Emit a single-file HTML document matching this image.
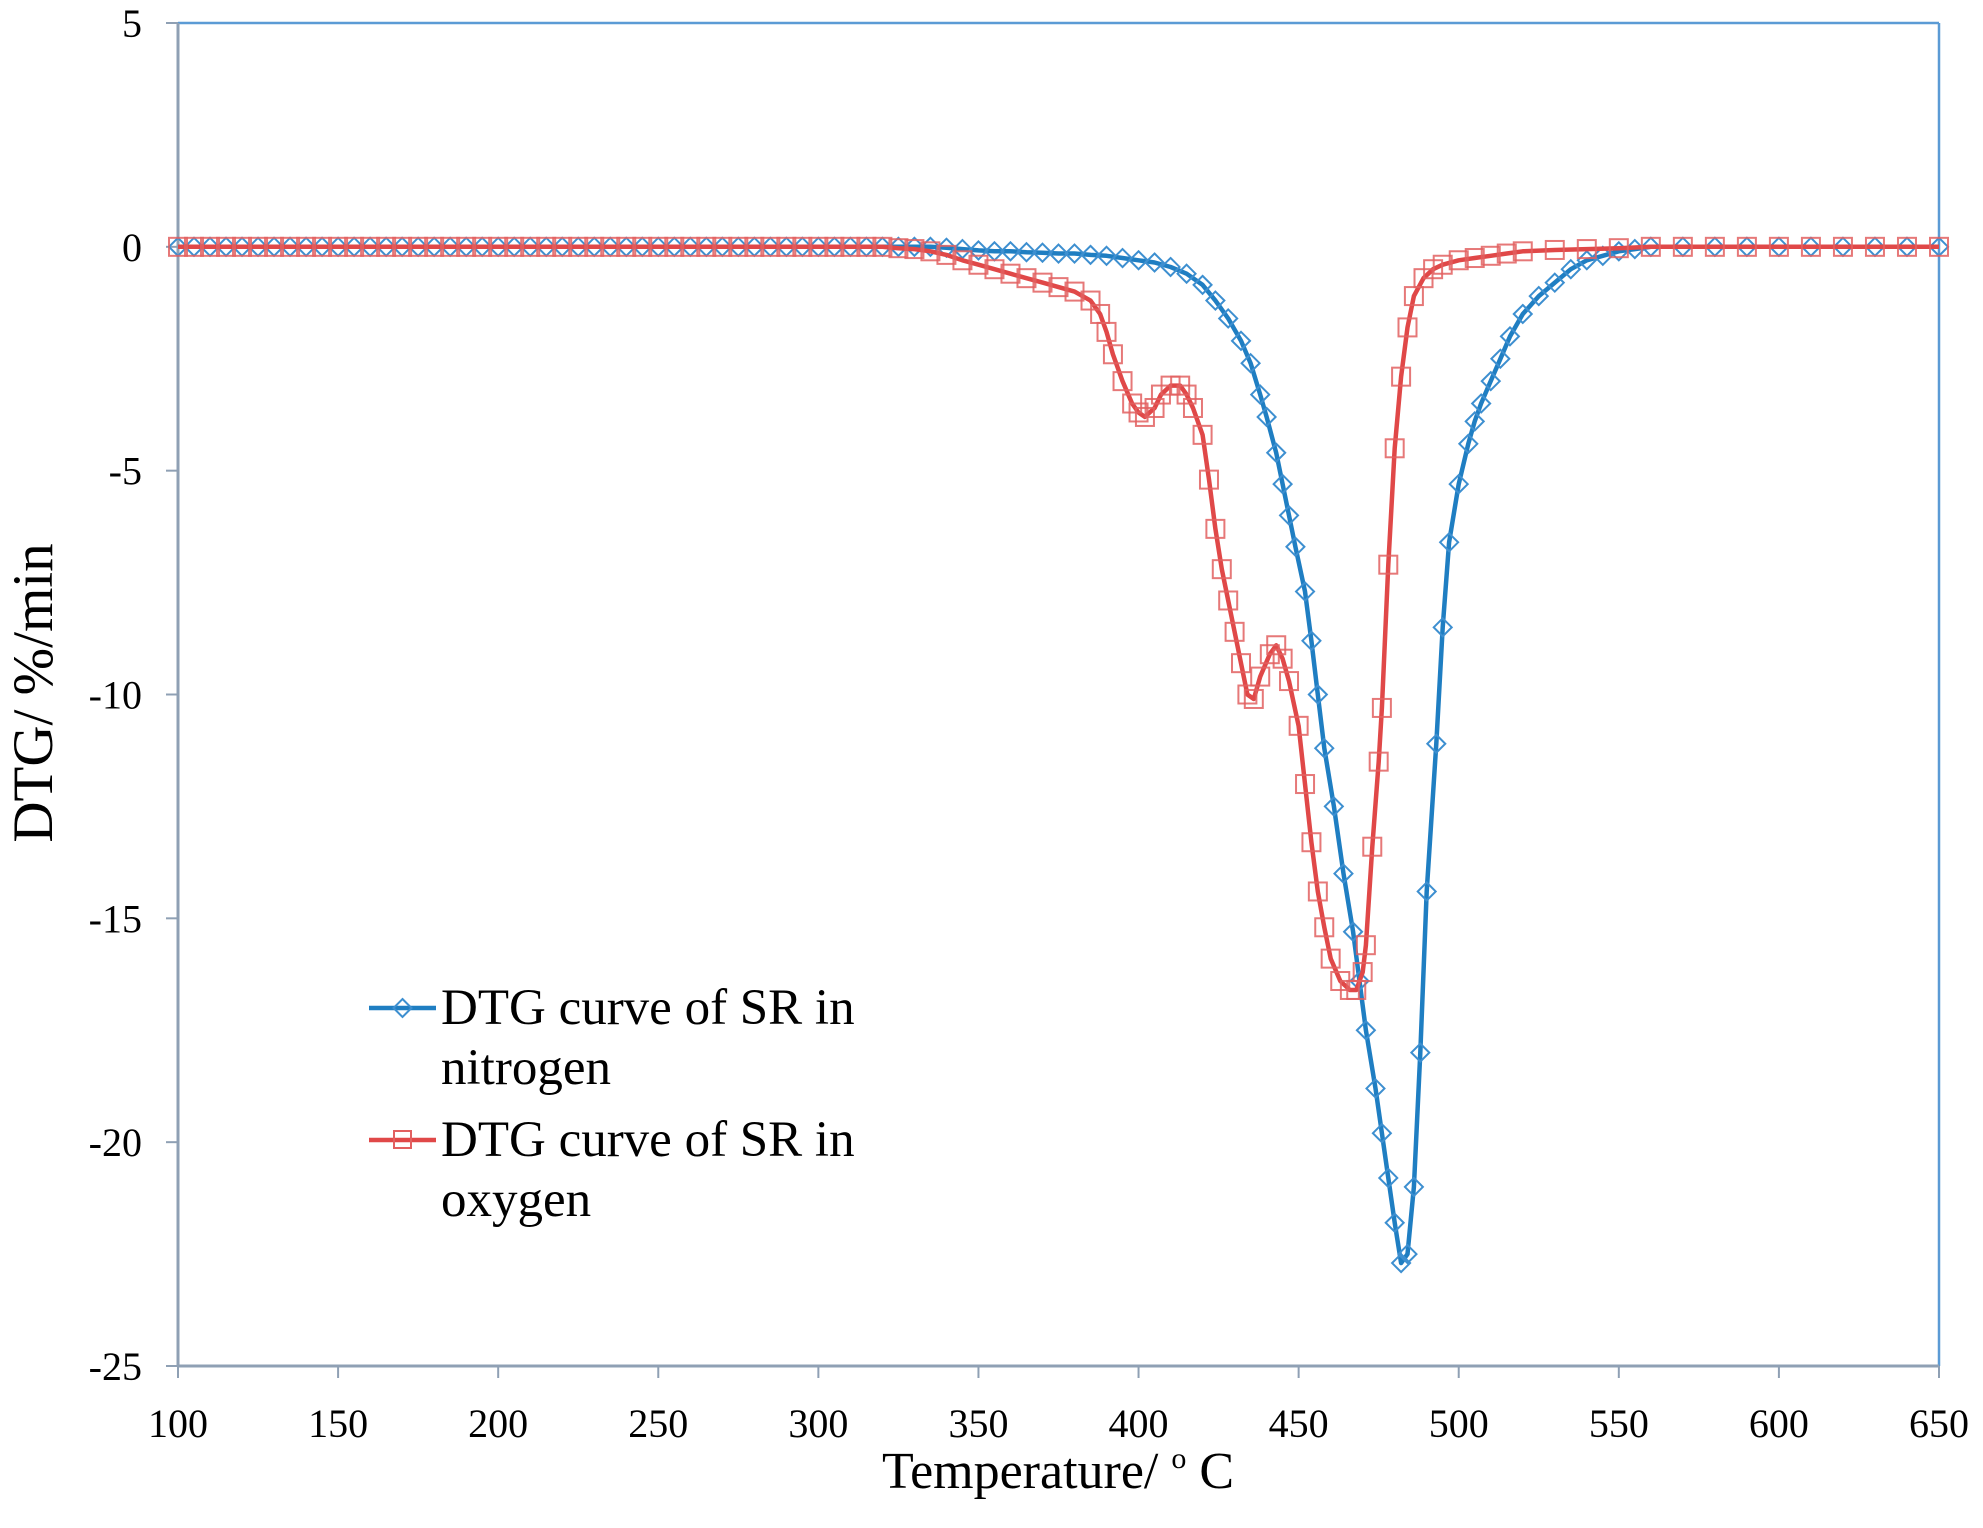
<!DOCTYPE html>
<html><head><meta charset="utf-8"><style>
html,body{margin:0;padding:0;background:#fff;}
svg{display:block;font-family:"Liberation Serif",serif;}
</style></head><body>
<svg id="chart" width="1983" height="1528" viewBox="0 0 1983 1528">
<rect x="178" y="23" width="1761" height="1343" fill="#fff" stroke="none"/>
<line x1="178" y1="23" x2="1939" y2="23" stroke="#5b9bd5" stroke-width="2.5"/>
<line x1="1939" y1="23" x2="1939" y2="1366" stroke="#5b9bd5" stroke-width="2.5"/>
<g id="axes"></g>
<g id="series"></g>
<text x="52" y="693" font-size="57" text-anchor="middle" transform="rotate(-90 52 693)">DTG/ %/min</text>
<text x="1058" y="1488" font-size="52" text-anchor="middle">Temperature/ <tspan font-size="30" dy="-20">o</tspan><tspan dy="20"> C</tspan></text>
<g>
<g>
<line x1="369" y1="1008" x2="436" y2="1008" stroke="#1f7ec2" stroke-width="4.5"/>
<path d="M402.5 999 L411.5 1008 L402.5 1017 L393.5 1008 Z" fill="none" stroke="#3d8fd0" stroke-width="2"/>
<text x="441" y="1024" font-size="51">DTG curve of SR in</text>
<text x="441" y="1084" font-size="51">nitrogen</text>
</g>
<g>
<line x1="369" y1="1140" x2="436" y2="1140" stroke="#e04848" stroke-width="4.5"/>
<rect x="394" y="1131" width="17" height="17" fill="none" stroke="#e26060" stroke-width="2"/>
<text x="441" y="1156" font-size="51">DTG curve of SR in</text>
<text x="441" y="1216" font-size="51">oxygen</text>
</g>
</g>
</svg>
<script>
const xTicks=[100,150,200,250,300,350,400,450,500,550,600,650];
const yTicks=[5,0,-5,-10,-15,-20,-25];
const n2Temp=[100,105,110,115,120,125,130,135,140,145,150,155,160,165,170,175,180,185,190,195,200,205,210,215,220,225,230,235,240,245,250,255,260,265,270,275,280,285,290,295,300,305,310,315,320,325,330,335,340,345,350,355,360,365,370,375,380,385,390,395,400,405,410,415,420,424,428,432,435,438,440,443,445,447,449,452,454,456,458,461,464,467,469,471,474,476,478,480,482,484,486,488,490,493,495,497,500,503,505,507,510,513,516,520,525,530,535,540,545,550,555,560,570,580,590,600,610,620,630,640,650];
const n2Val=[0,0,0,0,0,0,0,0,0,0,0,0,0,0,0,0,0,0,0,0,0,0,0,0,0,0,0,0,0,0,0,0,0,0,0,0,0,0,0,0,0,0,0,0,0,0,0,0,-0.02,-0.05,-0.08,-0.1,-0.1,-0.12,-0.13,-0.15,-0.15,-0.18,-0.2,-0.25,-0.3,-0.35,-0.45,-0.6,-0.85,-1.2,-1.6,-2.1,-2.6,-3.3,-3.8,-4.6,-5.3,-6.0,-6.7,-7.7,-8.8,-10.0,-11.2,-12.5,-14.0,-15.3,-16.4,-17.5,-18.8,-19.8,-20.8,-21.8,-22.7,-22.5,-21.0,-18.0,-14.4,-11.1,-8.5,-6.6,-5.3,-4.4,-3.9,-3.5,-3.0,-2.5,-2.0,-1.5,-1.1,-0.8,-0.5,-0.3,-0.2,-0.1,-0.05,0,0,0,0,0,0,0,0,0,0];
const o2Temp=[100,105,110,115,120,125,130,135,140,145,150,155,160,165,170,175,180,185,190,195,200,205,210,215,220,225,230,235,240,245,250,255,260,265,270,275,280,285,290,295,300,305,310,315,320,325,330,335,340,345,350,355,360,365,370,375,380,385,388,390,392,395,398,400,402,405,407,410,413,415,417,420,422,424,426,428,430,432,434,436,438,441,443,445,447,450,452,454,456,458,460,463,466,468,470,471,473,475,476,478,480,482,484,486,489,492,495,500,505,510,515,520,530,540,550,560,570,580,590,600,610,620,630,640,650];
const o2Val=[0,0,0,0,0,0,0,0,0,0,0,0,0,0,0,0,0,0,0,0,0,0,0,0,0,0,0,0,0,0,0,0,0,0,0,0,0,0,0,0,0,0,0,0,0,-0.03,-0.05,-0.1,-0.18,-0.3,-0.4,-0.5,-0.6,-0.7,-0.8,-0.9,-1.0,-1.2,-1.5,-1.9,-2.4,-3.0,-3.5,-3.7,-3.8,-3.6,-3.3,-3.1,-3.1,-3.3,-3.6,-4.2,-5.2,-6.3,-7.2,-7.9,-8.6,-9.3,-10.0,-10.1,-9.6,-9.1,-8.9,-9.2,-9.7,-10.7,-12.0,-13.3,-14.4,-15.2,-15.9,-16.4,-16.6,-16.6,-16.2,-15.6,-13.4,-11.5,-10.3,-7.1,-4.5,-2.9,-1.8,-1.1,-0.7,-0.5,-0.4,-0.3,-0.25,-0.2,-0.15,-0.1,-0.07,-0.05,-0.03,0,0,0,0,0,0,0,0,0,0];

const X0=178,X1=1939,Y0=23,Y1=1366;
function sx(t){return X0+(t-100)/(650-100)*(X1-X0);}
function sy(v){return Y0+(5-v)/(5-(-25))*(Y1-Y0);}
const NS="http://www.w3.org/2000/svg";
function mk(tag,attrs,parent){const e=document.createElementNS(NS,tag);for(const k in attrs)e.setAttribute(k,attrs[k]);parent.appendChild(e);return e;}
const axes=document.getElementById('axes');
const ser=document.getElementById('series');
let la=mk('line',{x1:X0,y1:Y0,x2:X0,y2:Y1,stroke:'#8fa0b4','stroke-width':3},axes);


let ba=mk('line',{x1:X0,y1:Y1,x2:X1,y2:Y1,stroke:'#8fa0b4','stroke-width':3},axes);


yTicks.forEach(v=>{
  const y=sy(v);
  const t=mk('line',{x1:X0-12,y1:y,x2:X0,y2:y,stroke:'#8fa0b4','stroke-width':2},axes);
  
  
  const l=mk('text',{x:142,y:y+14,'font-size':40,'text-anchor':'end'},axes);
  l.textContent=v;
  
  
});
xTicks.forEach(v=>{
  const x=sx(v);
  const t=mk('line',{x1:x,y1:Y1,x2:x,y2:Y1+12,stroke:'#8fa0b4','stroke-width':2},axes);
  
  
  const l=mk('text',{x:x,y:1437,'font-size':40,'text-anchor':'middle'},axes);
  l.textContent=v;
  
  
});
function drawSeries(ts,vs,color,mcolor,shape,name){
  const g=mk('g',{},ser);
  
  
  const pts=ts.map((t,i)=>sx(t).toFixed(1)+','+sy(vs[i]).toFixed(1)).join(' ');
  const pl=mk('polyline',{points:pts,fill:'none',stroke:color,'stroke-width':4.5,'stroke-linejoin':'round'},g);
  
  
  ts.forEach((t,i)=>{
    const x=sx(t),y=sy(vs[i]);
    let m;
    if(shape==='diamond'){
      m=mk('path',{d:`M${x} ${y-9}L${x+9} ${y}L${x} ${y+9}L${x-9} ${y}Z`,fill:'none',stroke:mcolor,'stroke-width':2},g);
    }else{
      m=mk('rect',{x:x-9,y:y-9,width:18,height:18,fill:'none',stroke:mcolor,'stroke-width':2,'stroke-opacity':0.85},g);
    }
    
    
  });
}
drawSeries(n2Temp,n2Val,'#1f7ec2','#3d8fd0','diamond','nitrogen-series');
drawSeries(o2Temp,o2Val,'#e04848','#e26060','square','oxygen-series');
</script>
</body></html>
